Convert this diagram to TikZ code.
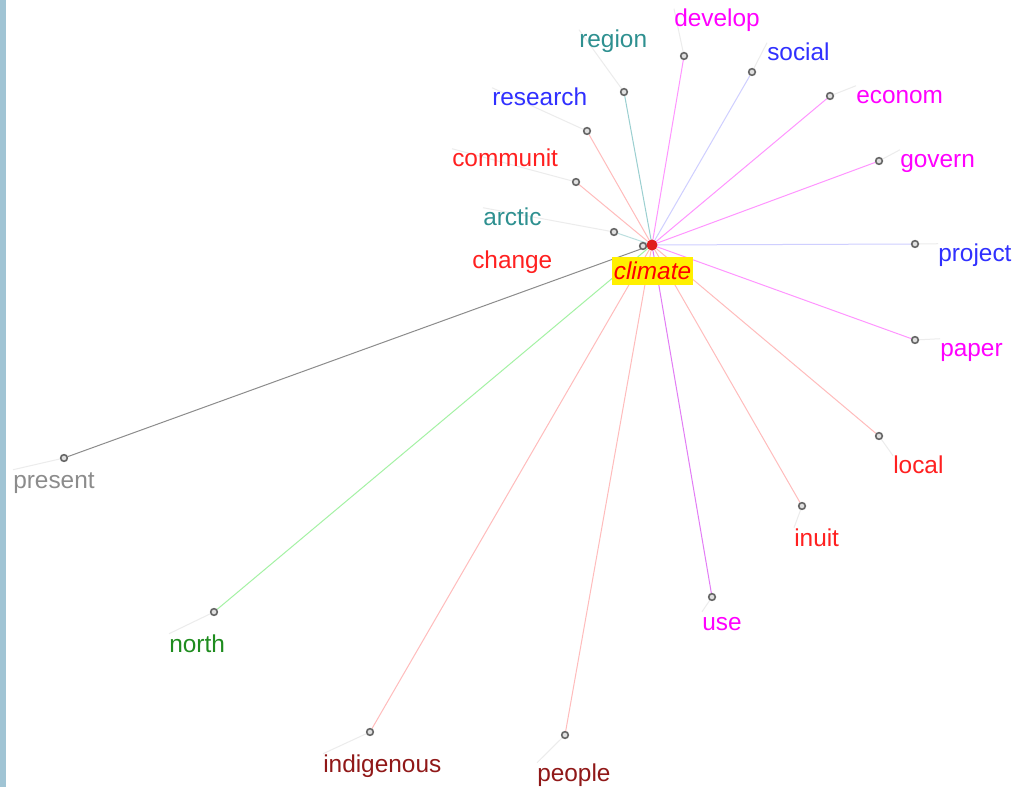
\documentclass[tikz,border=0pt]{standalone}
\usepackage{fontspec}
\setmainfont{Liberation Sans}
\pgfdeclarelayer{bg}
\pgfsetlayers{bg,main}
\definecolor{spTeal}{HTML}{9ACFD0}
\definecolor{spTealB}{HTML}{BCDFDF}
\definecolor{spMag}{HTML}{FF95FF}
\definecolor{spBlue}{HTML}{CFCFFF}
\definecolor{spRed}{HTML}{FFBCBC}
\definecolor{spViolet}{HTML}{E27CF5}
\definecolor{spGreen}{HTML}{A4F2A4}
\definecolor{spGray}{HTML}{8C8C8C}
\definecolor{lbTeal}{HTML}{2E9090}
\definecolor{lbMag}{HTML}{FF00FF}
\definecolor{lbBlue}{HTML}{3030FF}
\definecolor{lbRed}{HTML}{FF2020}
\definecolor{lbDark}{HTML}{901818}
\definecolor{lbGreen}{HTML}{1E8C1E}
\definecolor{lbGray}{HTML}{8C8C8C}
\definecolor{leadc}{HTML}{ECECEC}
\definecolor{barc}{HTML}{A0C4D4}
\definecolor{dotred}{HTML}{E01E1E}
\definecolor{boxy}{HTML}{FFF000}
\tikzset{
  endpt/.style={circle, draw=black!60, fill=black!12, line width=1.2pt, minimum size=5pt, inner sep=0pt},
  wordlbl/.style={anchor=base west, inner sep=0pt, text height=13.5pt, text depth=3.8pt, font=\fontsize{18.3pt}{21pt}\selectfont},
  spoke/.style={line width=0.75pt},
  leader/.style={draw=leadc, line width=0.75pt}
}
\begin{document}
\begin{tikzpicture}[x=0.75pt, y=-0.75pt]
\useasboundingbox (0,0) rectangle (1013,787);
\begin{pgfonlayer}{bg}
\fill[white] (0,0) rectangle (1013,787);
\fill[barc] (0,0) rectangle (6,787);
\end{pgfonlayer}
\node[circle, fill=dotred, minimum size=8pt, inner sep=0pt] (climate) at (652,245) {};
\foreach \n/\ex/\ey/\lx/\ly/\sc/\tc in {
  region/624/92/579/48/spTeal/lbTeal,
  develop/684/56/674/27/spMag/lbMag,
  social/752/72/767/61/spBlue/lbBlue,
  econom/830/96/856/104/spMag/lbMag,
  govern/879/161/900/168/spMag/lbMag,
  project/915/244/938/262/spBlue/lbBlue,
  paper/915/340/940/357/spMag/lbMag,
  local/879/436/893/474/spRed/lbRed,
  inuit/802/506/794/546/spRed/lbRed,
  use/712/597/702/630/spViolet/lbMag,
  people/565/735/537/781/spRed/lbDark,
  indigenous/370/732/323/772/spRed/lbDark,
  north/214/612/169/652/spGreen/lbGreen,
  present/64/458/13/488/spGray/lbGray,
  arctic/614/232/483/226/spTealB/lbTeal,
  communit/576/182/452/167/spRed/lbRed,
  research/587/131/492/106/spRed/lbBlue}
{
  \node[endpt] (e-\n) at (\ex,\ey) {};
  \node[wordlbl, text=\tc] (l-\n) at (\lx,\ly) {\n};
  \begin{pgfonlayer}{bg}
    \draw[spoke, draw=\sc] (climate.center) -- (e-\n);
    \draw[leader] (e-\n) -- (l-\n.north west);
  \end{pgfonlayer}
}
\node[endpt] (e-change) at (643,246) {};
\node[wordlbl, text=lbRed] (l-change) at (472,269) {change};
\begin{pgfonlayer}{bg}
  \draw[spoke, draw=spTeal] (climate.center) -- (e-change);
\end{pgfonlayer}
\node[circle, fill=dotred, minimum size=8pt, inner sep=0pt] at (climate) {};
\node[fill=boxy, minimum width=60.75pt, minimum height=21pt, inner sep=0pt,
      text=red, font=\fontsize{18.3pt}{21pt}\selectfont\itshape] (climatelbl) at (652.5,271) {climate};
\end{tikzpicture}
\end{document}
